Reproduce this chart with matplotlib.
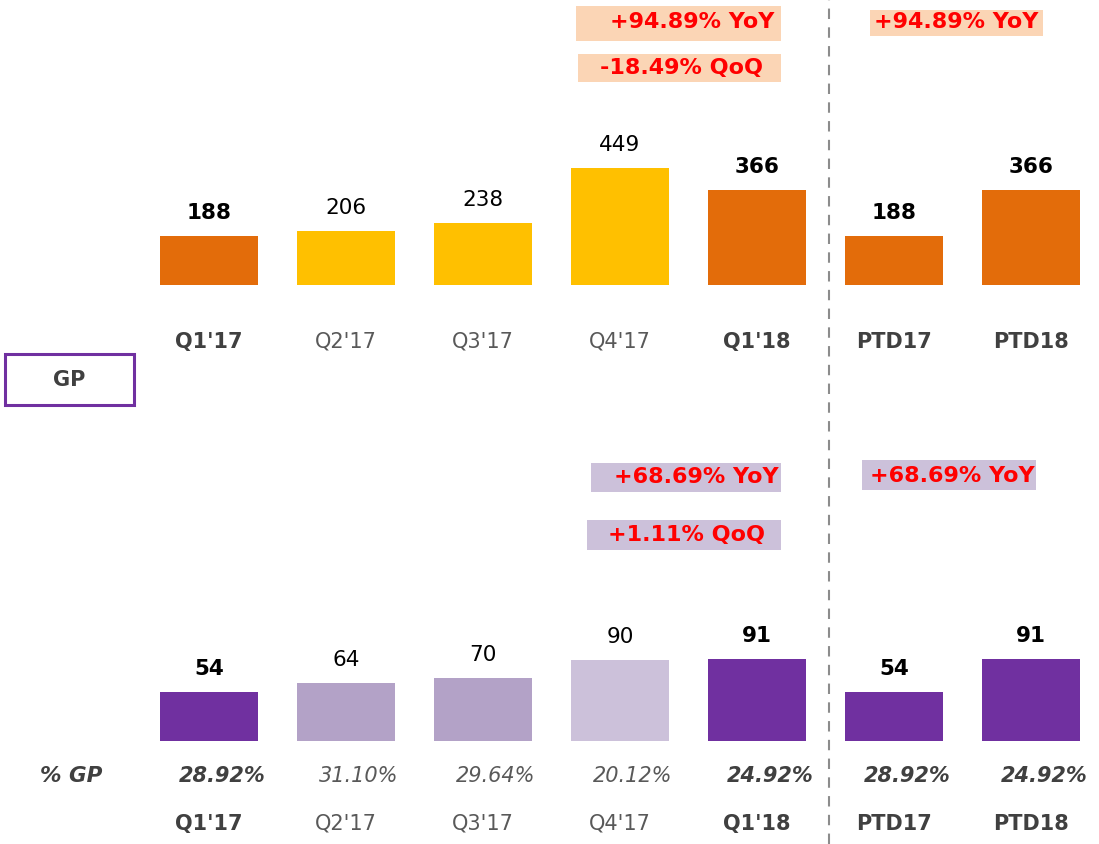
import matplotlib.pyplot as plt
from matplotlib.patches import Rectangle
from matplotlib.lines import Line2D

# data
quarters = ["Q1'17", "Q2'17", "Q3'17", "Q4'17", "Q1'18", "PTD17", "PTD18"]
revenue = [188, 206, 238, 449, 366, 188, 366]
gp = [54, 64, 70, 90, 91, 54, 91]
gp_pct = ["28.92%", "31.10%", "29.64%", "20.12%", "24.92%", "28.92%", "24.92%"]
is_bold = [True, False, False, False, True, True, True]

top_colors = ["#E36C0A", "#FFC000", "#FFC000", "#FFC000", "#E36C0A", "#E36C0A", "#E36C0A"]
bot_colors = ["#7030A0", "#B3A2C7", "#B3A2C7", "#CCC1DA", "#7030A0", "#7030A0", "#7030A0"]

W, H = 1099, 844
fig = plt.figure(figsize=(W / 100, H / 100), dpi=100)
plt.rcParams['font.family'] = ['DejaVu Sans']

def fy(py):
    # pixel from top -> figure fraction
    return (H - py) / H

def fx(px):
    return px / W

# x range so that bar i sits at 209 + 137*i px
xlim = (-209 / 137, (W - 209) / 137)

ax1 = fig.add_axes([0, fy(285), 1, 285 / H])
ax1.set_ylim(0, 285 / 0.2606)
ax2 = fig.add_axes([0, fy(741), 1, 301 / H])
ax2.set_ylim(0, 301 / 0.9)

x = list(range(len(quarters)))
for ax, vals, cols, lab_px in [(ax1, revenue, top_colors, 57), (ax2, gp, bot_colors, 83)]:
    ax.set_xlim(*xlim)
    ax.bar(x, vals, width=0.72, color=cols)
    ax.axis('off')
    for i, v in enumerate(vals):
        w = 'bold' if is_bold[i] else 'normal'
        ax.annotate(str(v), (i, v), xytext=(0, 23), textcoords='offset pixels',
                    ha='center', va='center', fontsize=15.5, fontweight=w, color='black')
        ax.annotate(quarters[i], (i, 0), xytext=(0, -lab_px), textcoords='offset pixels',
                    ha='center', va='center', fontsize=15, fontweight=w,
                    color='#404040' if is_bold[i] else '#595959')

# % GP row
for i, p in enumerate(gp_pct):
    ax2.annotate(p, (i, 0), xytext=(13, -35), textcoords='offset pixels',
                 ha='center', va='center', fontsize=15, style='italic',
                 fontweight='bold' if is_bold[i] else 'normal',
                 color='#404040' if is_bold[i] else '#595959')
fig.text(fx(71), fy(776), "% GP", ha='center', va='center', fontsize=15.5,
         style='italic', fontweight='bold', color='#404040')

# growth boxes
boxes = [
    (576, 6, 781, 41, "#FBD5B5", "+94.89% YoY", 692, 22),
    (578, 54, 781, 82, "#FBD5B5", "-18.49% QoQ", 681, 68),
    (870, 10, 1043, 36, "#FBD5B5", "+94.89% YoY", 956, 22),
    (591, 463, 781, 492, "#CCC1DA", "+68.69% YoY", 696, 477),
    (587, 520, 781, 550, "#CCC1DA", "+1.11% QoQ", 686, 535),
    (862, 460, 1036, 490, "#CCC1DA", "+68.69% YoY", 952, 476),
]
for x0, y0, x1, y1, fc, txt, tx, ty in boxes:
    fig.patches.append(Rectangle((fx(x0), fy(y1)), fx(x1) - fx(x0), fy(y0) - fy(y1),
                                 transform=fig.transFigure, facecolor=fc, edgecolor='none'))
    fig.text(fx(tx), fy(ty), txt, ha='center', va='center', fontsize=16,
             fontweight='bold', color='#FF0000')

# GP label box
fig.patches.append(Rectangle((fx(5), fy(405)), fx(134) - fx(5), fy(354) - fy(405),
                             transform=fig.transFigure, facecolor='white',
                             edgecolor='#7030A0', linewidth=2.2))
fig.text(fx(69), fy(380), "GP", ha='center', va='center', fontsize=15,
         fontweight='bold', color='#404040')

# dashed divider
fig.add_artist(Line2D([fx(829), fx(829)], [0, 1], transform=fig.transFigure,
                      color='#8C8C8C', linestyle=(0, (5, 4)), linewidth=1.5))

fig.savefig('out.png', dpi=100)
